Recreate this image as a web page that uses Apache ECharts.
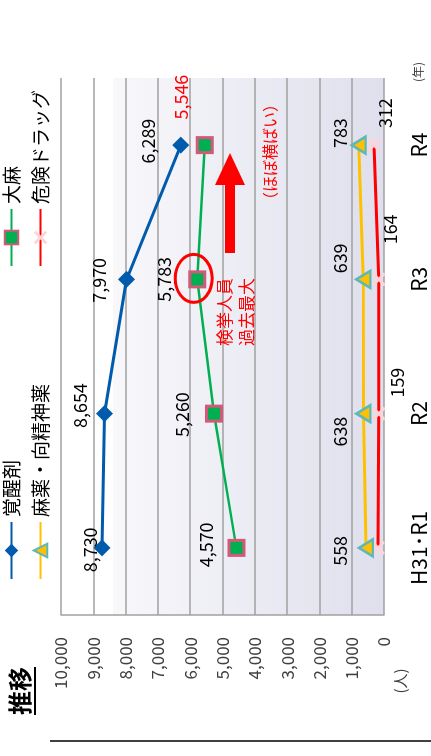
<!DOCTYPE html>
<html><head><meta charset="utf-8">
<script src="https://cdn.jsdelivr.net/npm/echarts@6/dist/echarts.min.js"></script>
<style>
html,body{margin:0;padding:0;width:431px;height:756px;overflow:hidden;background:#fff}
#c{position:absolute;left:0;top:0;width:756px;height:431px;transform-origin:0 0;transform:translateY(756px) rotate(-90deg)}
</style></head><body><div id="c"></div>
<script>
// ---- data ----
const years = ['H31･R1', 'R2', 'R3', 'R4'];
const kakuseizai = [8730, 8654, 7970, 6289];   // 覚醒剤
const mayaku = [558, 638, 639, 783];           // 麻薬・向精神薬
const taima = [4570, 5260, 5783, 5546];        // 大麻
const kiken = [185, 159, 164, 312];            // 危険ドラッグ
const yTickLabels = ['0','1,000','2,000','3,000','4,000','5,000','6,000','7,000','8,000','9,000','10,000'];

// ---- label nudges (style) ----
const labelShift = {
  kakuseizai: [[-2,-12],[8,-24],[-1,-27],[4,-33]],
  taima: [[3,-30],[-1,-32],[0,-33],[48,-24]],
  mayaku: [[-3,-26],[-18,-23],[21,-23],[12,-19]],
  kiken: [null,[31,18],[50,11],[32,11]]
};
const FF = '"Noto Sans CJK JP", "Noto Sans", sans-serif';

function mkData(vals, shifts, colorOverride) {
  return vals.map((v, i) => {
    const s = shifts[i];
    if (!s) return { value: v, label: { show: false } };
    const d = { value: v, label: { show: true, position: 'inside', offset: s } };
    if (colorOverride && colorOverride[i]) d.label.color = colorOverride[i];
    return d;
  });
}

const chart = echarts.init(document.getElementById('c'), null, { renderer: 'canvas' });
const labelBase = { show: true, fontSize: 18, color: '#000', fontFamily: FF, formatter: p => p.value.toLocaleString('en-US') };
const legendBase = {
  orient: 'vertical', top: -3, itemWidth: 57, itemHeight: 17, itemGap: 10,
  textStyle: { fontSize: 19, color: '#000', fontFamily: FF }, itemStyle: {}
};

chart.setOption({
  animation: false,
  textStyle: { fontFamily: FF },
  legend: [
    Object.assign({}, legendBase, { left: 171, data: ['覚醒剤', '麻薬・向精神薬'] }),
    Object.assign({}, legendBase, { left: 484, data: ['大麻', '危険ドラッグ'] })
  ],
  grid: {
    left: 141, right: 78, top: 61, bottom: 47, show: true, borderWidth: 0,
    backgroundColor: new echarts.graphic.LinearGradient(0, 0, 0, 1, [
      { offset: 0, color: '#ffffff' }, { offset: 0.16, color: '#ffffff' },
      { offset: 0.161, color: '#f8f8fb' }, { offset: 1, color: '#dfdfed' }
    ])
  },
  xAxis: {
    type: 'category', data: years, boundaryGap: true,
    axisLine: { show: false }, axisTick: { show: false },
    axisLabel: { fontSize: 21, color: '#000', margin: 25, fontFamily: FF }
  },
  yAxis: {
    type: 'value', min: 0, max: 10000, interval: 1000,
    axisLine: { show: true, lineStyle: { color: '#a0a0a0', width: 1.5 } },
    axisTick: { show: false },
    axisLabel: { fontSize: 17, color: '#404040', margin: 22, fontFamily: FF,
      formatter: v => yTickLabels[Math.round(v / 1000)] },
    splitLine: { show: true, lineStyle: { color: '#a0a0a0', width: 1.5 } }
  },
  series: [
    {
      name: '覚醒剤', type: 'line', data: mkData(kakuseizai, labelShift.kakuseizai),
      symbol: 'diamond', symbolSize: 17, lineStyle: { color: '#005bac', width: 3 },
      itemStyle: { color: '#005bac' }, label: labelBase, z: 3
    },
    {
      name: '麻薬・向精神薬', type: 'line', data: mkData(mayaku, labelShift.mayaku),
      symbol: 'triangle', symbolSize: [17, 14], lineStyle: { color: '#ffc000', width: 3 },
      itemStyle: { color: '#ffc000', borderColor: '#5fb8b8', borderWidth: 2.5 }, label: labelBase, z: 4
    },
    {
      name: '大麻', type: 'line', data: mkData(taima, labelShift.taima, [null, null, null, '#ff0000']),
      symbol: 'rect', symbolSize: 15, lineStyle: { color: '#00b050', width: 2.5 },
      itemStyle: { color: '#00b050', borderColor: '#d4587a', borderWidth: 3 }, label: labelBase, z: 3
    },
    {
      name: '危険ドラッグ', type: 'line', data: mkData(kiken, labelShift.kiken),
      symbol: 'path://M2,0 L7,5 L12,0 L14,2 L9,7 L14,12 L12,14 L7,9 L2,14 L0,12 L5,7 L0,2 Z',
      symbolSize: 14, lineStyle: { color: '#ff0000', width: 3 },
      itemStyle: { color: '#ffd3d8' }, label: labelBase, z: 3
    }
  ]
});

// annotations
const c = chart.convertToPixel({ gridIndex: 0 }, [2, taima[2]]);
chart.setOption({
  graphic: [
    { type: 'text', left: 41, top: 8, style: { text: '推移', fontSize: 24, fontWeight: 'bold', fill: '#000', fontFamily: FF } },
    { type: 'line', shape: { x1: 41, y1: 35, x2: 89, y2: 35 }, style: { stroke: '#000', lineWidth: 2 } },
    { type: 'line', shape: { x1: 15, y1: 50, x2: 15, y2: 431 }, style: { stroke: '#000', lineWidth: 1.5 } },
    { type: 'text', x: 75, y: 400, style: { text: '(人)', fontSize: 15, fill: '#404040', align: 'center', verticalAlign: 'middle', fontFamily: FF } },
    { type: 'text', x: 684, y: 418, style: { text: '(年)', fontSize: 12, fill: '#404040', align: 'center', verticalAlign: 'middle', fontFamily: FF } },
    { type: 'ellipse', shape: { cx: c[0] + 1, cy: c[1] - 3.5, rx: 24, ry: 18.5 }, style: { fill: 'none', stroke: '#ff0000', lineWidth: 3 }, z: 100 },
    { type: 'text', x: 410, y: 236, style: { text: '検挙人員\n過去最大', fontSize: 17, lineHeight: 22, fill: '#ff0000', align: 'left', verticalAlign: 'middle', fontFamily: FF }, z: 100 },
    { type: 'polygon', shape: { points: [[503,225],[571,225],[571,215],[603,230],[571,245],[571,235],[503,235]] }, style: { fill: '#ff0000' }, z: 100 },
    { type: 'text', x: 604, y: 270, style: { text: '（ほぼ横ばい）', fontSize: 16, fill: '#ff0000', align: 'center', verticalAlign: 'middle', fontFamily: FF }, z: 100 }
  ]
});
</script></body></html>
